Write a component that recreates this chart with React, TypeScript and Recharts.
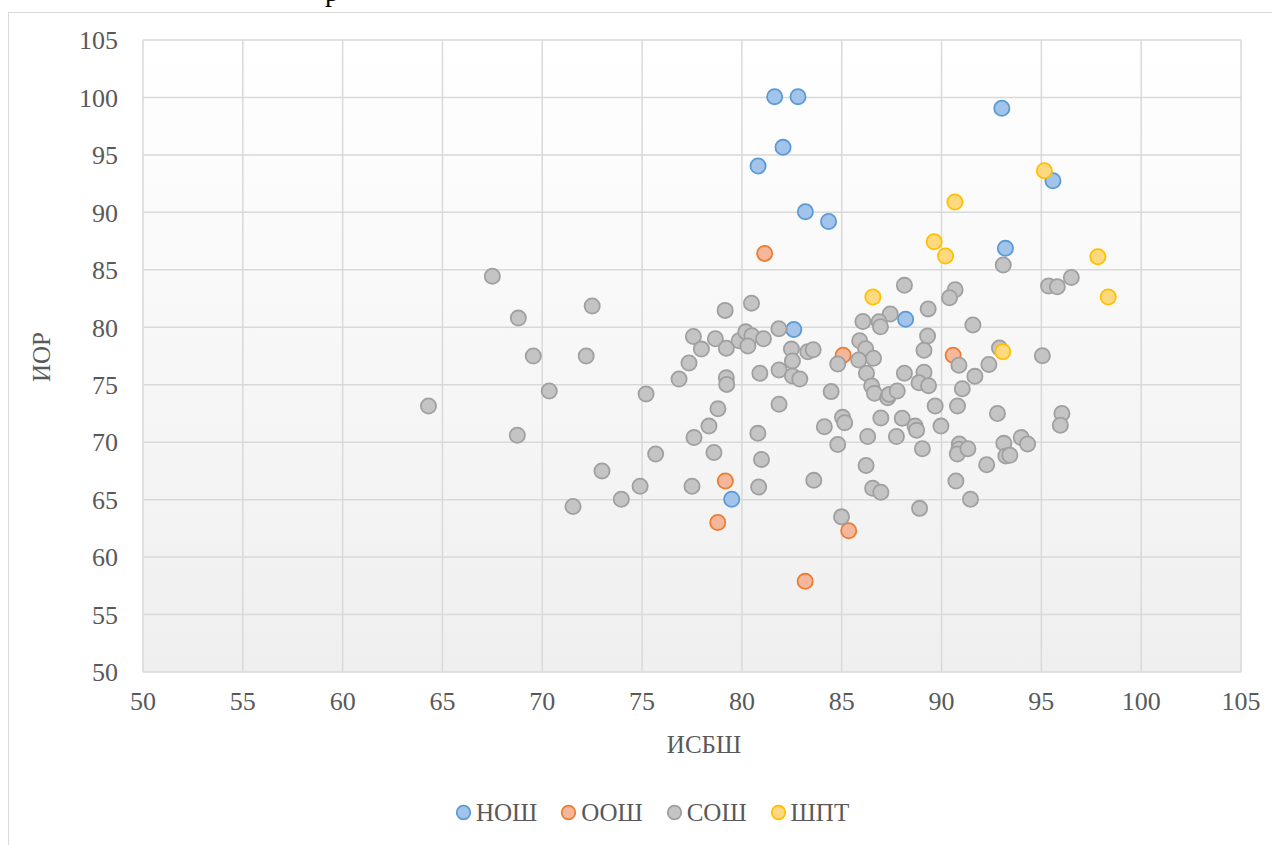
import React from 'react';
import { ScatterChart, Scatter, XAxis, YAxis, CartesianGrid } from 'recharts';

const categories = ['НОШ', 'ООШ', 'СОШ', 'ШПТ'];
const axisTicks = [50, 55, 60, 65, 70, 75, 80, 85, 90, 95, 100, 105];

const noshX = [81.64, 82.81, 82.06, 80.81, 83.18, 84.34, 93.02, 95.58, 93.2, 88.2, 82.6, 79.49];
const noshY = [100.07, 100.07, 95.66, 94.03, 90.06, 89.2, 99.06, 92.75, 86.87, 80.7, 79.8, 65.03];

const ooshX = [81.14, 85.07, 90.58, 79.17, 78.79, 85.35, 83.17];
const ooshY = [86.43, 77.56, 77.56, 66.62, 63.02, 62.3, 57.89];

const soshX = [
  67.5, 68.8, 72.5, 69.55, 72.2, 70.35, 64.3, 68.75, 75.2, 76.85, 77.35, 77.57, 77.97, 78.67, 79.16,
  79.22, 79.22, 79.24, 78.8, 78.35, 77.6, 75.68, 78.6, 72.99, 74.9, 73.96, 71.54, 77.5, 79.86, 80.19,
  80.48, 80.5, 80.3, 81.08, 81.85, 80.9, 81.86, 82.48, 82.53, 82.53, 82.9, 83.3, 83.57, 81.86, 80.8,
  80.98, 80.84, 83.6, 84.47, 84.13, 84.8, 85.04, 85.15, 84.8, 84.99, 85.9, 86.06, 86.2, 85.85, 86.59,
  86.24, 86.5, 86.64, 86.3, 86.22, 86.55, 88.14, 90.68, 90.4, 93.09, 95.36, 95.8, 96.5, 89.33, 87.43,
  86.87, 86.94, 91.57, 89.3, 89.12, 88.14, 89.12, 88.87, 89.35, 87.3, 87.38, 87.78, 92.9, 90.87, 92.37,
  91.67, 91.04, 95.05, 89.68, 90.8, 92.8, 96.03, 95.95, 86.96, 88.03, 88.67, 88.75, 89.97, 87.74, 89.04,
  90.89, 90.87, 90.79, 91.32, 92.26, 93.12, 93.22, 93.42, 93.99, 94.31, 86.96, 90.72, 91.45, 88.9,
];
const soshY = [
  84.45, 80.8, 81.85, 77.5, 77.5, 74.45, 73.15, 70.6, 74.2, 75.5, 76.9, 79.2, 78.1, 79.0, 81.47,
  78.17, 75.6, 75.03, 72.9, 71.4, 70.4, 68.97, 69.1, 67.5, 66.16, 65.03, 64.4, 66.16, 78.83, 79.6,
  82.1, 79.27, 78.37, 79.0, 79.87, 76.0, 76.28, 78.1, 77.06, 75.76, 75.5, 77.87, 78.04, 73.3, 70.77,
  68.5, 66.1, 66.68, 74.4, 71.35, 69.8, 72.16, 71.7, 76.8, 63.5, 78.83, 80.5, 78.14, 77.15, 77.3,
  76.0, 74.9, 74.25, 70.5, 67.98, 66.0, 83.65, 83.27, 82.57, 85.42, 83.6, 83.53, 84.34, 81.6, 81.15,
  80.48, 80.05, 80.2, 79.24, 78.0, 76.0, 76.08, 75.17, 74.92, 73.87, 74.16, 74.45, 78.2, 76.7, 76.77,
  75.73, 74.65, 77.53, 73.15, 73.15, 72.5, 72.5, 71.47, 72.1, 72.08, 71.4, 71.03, 71.4, 70.5, 69.43,
  69.84, 69.38, 68.97, 69.43, 68.04, 69.9, 68.8, 68.86, 70.4, 69.84, 65.64, 66.62, 65.03, 64.24,
];

const shptX = [95.15, 90.67, 89.63, 90.2, 97.83, 98.35, 86.56, 93.07];
const shptY = [93.63, 90.9, 87.45, 86.2, 86.14, 82.63, 82.63, 77.87];

const zip = (xs: number[], ys: number[]) => xs.map((x, i) => ({ x, y: ys[i] }));

const series = [
  { name: categories[0], data: zip(noshX, noshY), fill: '#a3c4ea', stroke: '#5b9bd5' },
  { name: categories[1], data: zip(ooshX, ooshY), fill: '#f5b79b', stroke: '#ed7d31' },
  { name: categories[2], data: zip(soshX, soshY), fill: '#c4c4c4', stroke: '#a0a0a0' },
  { name: categories[3], data: zip(shptX, shptY), fill: '#ffd97f', stroke: '#ffc000' },
];

const font = 'Liberation Serif, Times New Roman, Times, DejaVu Serif, serif';
const textColor = '#595959';

const dot = (fill: string, stroke: string) => (props: any) => (
  <circle cx={props.cx} cy={props.cy} r={7.6} fill={fill} stroke={stroke} strokeWidth={1.8} />
);

export default function App() {
  return (
    <div>
      <div
        style={{
          position: 'absolute',
          left: 325,
          top: -22,
          fontFamily: font,
          fontSize: 28,
          lineHeight: '28px',
          color: '#000',
        }}
      >
        р
      </div>
      <svg width={0} height={0} style={{ position: 'absolute' }}>
        <defs>
          <linearGradient id="plotBg" x1="0" y1="0" x2="0" y2="1">
            <stop offset="0%" stopColor="#ffffff" />
            <stop offset="100%" stopColor="#efefef" />
          </linearGradient>
        </defs>
      </svg>
      <div
        style={{
          position: 'relative',
          marginTop: 4,
          width: 1272,
          height: 833,
          boxSizing: 'border-box',
          borderLeft: '1px solid #d9d9d9',
          borderTop: '1px solid #d9d9d9',
          background: '#fff',
        }}
      >
        <ScatterChart width={1271} height={832} margin={{ top: 27, right: 39, bottom: 0, left: 0 }}>
          <CartesianGrid stroke="#d9d9d9" strokeWidth={1.5} fill="url(#plotBg)" fillOpacity={1} />
          <XAxis
            type="number"
            dataKey="x"
            domain={[50, 105]}
            ticks={axisTicks}
            height={173}
            axisLine={false}
            tickLine={false}
            tickSize={0}
            tickMargin={20}
            tick={{ fill: textColor, fontSize: 26, fontFamily: font }}
            interval={0}
          />
          <YAxis
            type="number"
            dataKey="y"
            domain={[50, 105]}
            ticks={axisTicks}
            width={134}
            axisLine={false}
            tickLine={false}
            tickSize={0}
            tickMargin={25}
            tick={{ fill: textColor, fontSize: 26, fontFamily: font }}
            interval={0}
          />
          {series.map((s) => (
            <Scatter
              key={s.name}
              name={s.name}
              data={s.data}
              shape={dot(s.fill, s.stroke)}
              isAnimationActive={false}
            />
          ))}
        </ScatterChart>
        <div
          style={{
            position: 'absolute',
            left: 695,
            top: 719,
            transform: 'translateX(-50%)',
            fontFamily: font,
            fontSize: 25,
            lineHeight: '25px',
            color: textColor,
          }}
        >
          ИСБШ
        </div>
        <div
          style={{
            position: 'absolute',
            left: 32,
            top: 344,
            transform: 'translate(-50%, -50%) rotate(-90deg)',
            fontFamily: font,
            fontSize: 25,
            lineHeight: '25px',
            color: textColor,
          }}
        >
          ИОР
        </div>
        <div
          style={{
            position: 'absolute',
            left: 446,
            top: 787,
            display: 'flex',
            alignItems: 'center',
            fontFamily: font,
            fontSize: 25,
            lineHeight: '25px',
            color: textColor,
          }}
        >
          {series.map((s) => (
            <div key={s.name} style={{ display: 'flex', alignItems: 'center', marginRight: 23 }}>
              <svg width={17} height={17} style={{ marginRight: 4 }}>
                <circle cx={8.5} cy={8.5} r={6.8} fill={s.fill} stroke={s.stroke} strokeWidth={1.8} />
              </svg>
              <span>{s.name}</span>
            </div>
          ))}
        </div>
      </div>
    </div>
  );
}
